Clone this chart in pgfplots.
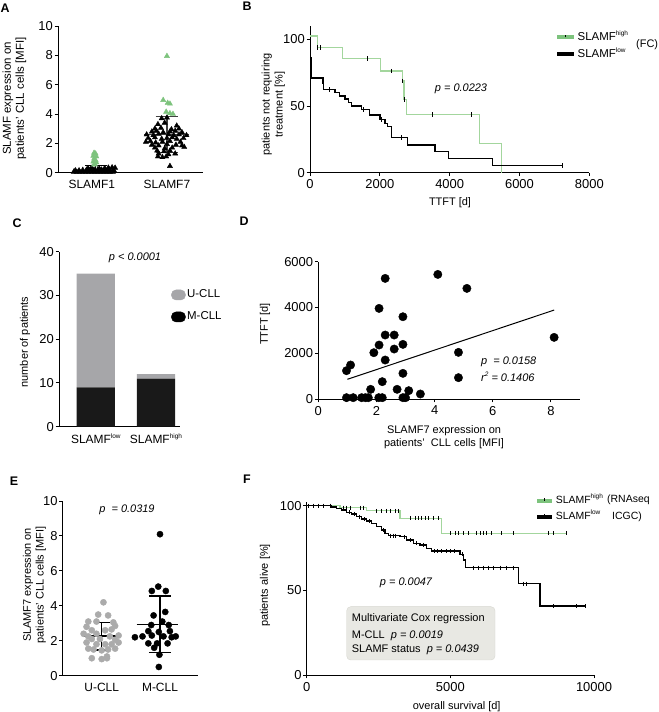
\documentclass[border=0pt]{standalone}
\usepackage{fontspec}
\setmainfont{Liberation Sans}
\usepackage{pgfplots}
\pgfplotsset{compat=1.18}
\definecolor{grn}{HTML}{7DC37D}
\definecolor{grnl}{HTML}{A3D69D}
\definecolor{ug}{HTML}{A6A6A9}
\definecolor{eg}{HTML}{ABABAB}
\definecolor{boxf}{HTML}{E8E8E3}
\definecolor{boxd}{HTML}{D6D6CF}
\newcommand{\sps}[1]{\raisebox{0.85ex}{\fontsize{6.5}{7}\selectfont #1}}
\pgfplotsset{
  gp/.style={scale only axis, anchor=south west, axis lines=left,
    axis line style={-, line width=0.9bp},
    tick align=outside, major tick length=3.5bp,
    tick style={line width=0.9bp, black},
    tick label style={font=\fontsize{13}{15}\selectfont},
    /pgf/number format/assume math mode=true,
    /pgf/number format/1000 sep={}, scaled ticks=false,
    yticklabel style={inner sep=1.5bp}, clip=false},
  leg/.style={legend cell align=left,
    legend style={draw=none, fill=none, inner sep=0pt, anchor=west,
      font=\fontsize{11}{13}\selectfont,
      nodes={inner sep=1.5bp, text height=8bp, text depth=2bp}}}
}
\newcommand{\lab}{\fontsize{11}{13}\selectfont}
\begin{document}
\begin{tikzpicture}[x=1bp,y=1bp]
\path[use as bounding box] (0,0) rectangle (659,712);

% ---------------- A
\begin{axis}[gp, at={(58bp,539.3bp)}, width=145bp, height=146.7bp,
  xmin=-0.45, xmax=1.48, ymin=0, ymax=10, ytick={0,2,...,10},
  xtick={0,1}, xticklabels={SLAMF1,SLAMF7}, xtick style={draw=none},
  xticklabel style={font=\fontsize{12}{14}\selectfont}]
\addplot[only marks, mark=triangle*, mark size=3bp, black, mark options={fill=black}] coordinates {
(-0.24,0.06)(-0.20,0.06)(-0.16,0.06)(-0.12,0.06)(-0.08,0.06)(-0.04,0.06)(0.0,0.06)(0.04,0.06)(0.08,0.06)(0.12,0.06)(0.16,0.06)(0.20,0.06)(0.24,0.06)(0.28,0.06)
(-0.22,0.15)(-0.17,0.15)(-0.12,0.18)(-0.07,0.2)(-0.02,0.22)(0.03,0.2)(0.08,0.22)(0.13,0.2)(0.18,0.2)(0.23,0.22)(0.28,0.2)
(-0.05,0.3)(0.0,0.32)(0.1,0.28)(0.17,0.3)(0.22,0.34)(0.27,0.36)(0.31,0.33)(0.3,0.1)
};
\addplot[only marks, mark=triangle*, mark size=3bp, grn, mark options={fill=grn}] coordinates {
(0.03,1.35)(0.05,1.3)(0.02,1.15)(0.06,1.1)(0.03,0.95)(0.05,0.85)(0.02,0.75)(0.06,0.7)(0.04,0.6)(0.03,0.55)
};
\addplot[black, line width=1.2bp] coordinates {(-0.09,0.48)(0.2,0.48)};
\addplot[black, line width=1.2bp] coordinates {(0.05,0.2)(0.05,0.48)};
\addplot[only marks, mark=triangle*, mark size=3bp, black, mark options={fill=black}] coordinates {
(0.93,3.7)(1.0,3.75)
(0.88,3.3)(0.97,3.4)(1.13,3.2)
(0.84,3.0)(0.92,3.05)(1.06,2.95)(1.16,3.0)
(0.80,2.8)(0.86,2.85)(0.95,2.75)(1.04,2.8)(1.11,2.85)(1.20,2.75)
(0.73,2.6)(0.82,2.55)(0.89,2.65)(1.02,2.6)(1.09,2.55)(1.16,2.6)(1.26,2.55)
(0.75,2.35)(0.84,2.4)(0.93,2.3)(1.0,2.35)(1.07,2.4)(1.13,2.3)(1.22,2.35)
(0.72,2.1)(0.78,2.15)(0.85,2.05)(0.94,2.1)(1.04,2.15)(1.18,2.1)
(0.80,1.9)(0.89,1.85)(1.0,1.95)(1.12,1.9)(1.20,1.85)
(0.84,1.7)(0.97,1.65)(1.07,1.7)(1.23,1.75)
(0.87,1.5)(0.96,1.45)(1.04,1.5)
(0.89,1.3)(1.02,1.25)(1.11,1.3)
(0.88,1.1)(0.94,1.05)(0.99,1.1)
(1.04,0.45)
};
\addplot[only marks, mark=triangle*, mark size=3bp, grn, mark options={fill=grn}] coordinates {
(1.0,7.95)(0.95,4.95)(1.01,4.75)(1.04,4.7)(0.99,4.15)(1.04,4.05)(1.08,4.0)
};
\addplot[black!75, line width=1.2bp] coordinates {(0.7,2.61)(1.3,2.61)};
\addplot[black!75, line width=1.2bp] coordinates {(0.85,3.82)(1.15,3.82)};
\addplot[black!75, line width=1.2bp] coordinates {(0.85,1.36)(1.15,1.36)};
\addplot[black!75, line width=1.2bp] coordinates {(1.0,1.36)(1.0,3.82)};
\end{axis}

% ---------------- B
\begin{axis}[gp, leg, at={(310bp,539.3bp)}, width=279.3bp, height=146.7bp,
  xmin=0, xmax=8000, ymin=0, ymax=110, xtick={0,2000,4000,6000,8000}, ytick={0,50,100},
  legend style={at={(axis description cs:0.877,0.864)}, row sep=4bp, font=\fontsize{11.5}{13}\selectfont},
  legend image code/.code={\draw[#1, line width=4bp] (0bp,0bp) -- (17bp,0bp);
     \draw[black, line width=0.8bp] (8.5bp,0bp) -- (8.5bp,2.5bp);}]
\addplot[const plot, grnl, line width=1.2bp, forget plot] coordinates {
(0,102.5)(210,94)(935,85.75)(2024,76.25)(2640,68.75)(2690,55)(2768,43.75)(4850,22)(5489,0)};
\addplot[only marks, mark=|, mark size=2.2bp, black, line width=0.7bp, forget plot] coordinates {
(210,94)(305,94)(1652,85.75)(2320,76.25)(2640,68.75)(2690,55)(3504,43.75)(4630,43.75)};
\addplot[const plot, black, line width=1.2bp, forget plot] coordinates {
(0,97)(15,86)(30,76)(45,71)(370,67)(385,62.5)(716,60)(840,57.5)(1002,55.25)(1097,52.75)(1193,50)(1479,47.5)(1698,43.25)(2004,40)(2147,37)(2223,34.5)(2338,26.25)(2786,20.75)(3578,15.75)(3960,10.75)(5229,5.25)(7233,5.25)};
\addplot[only marks, mark=|, mark size=2.2bp, black, line width=0.7bp, forget plot] coordinates {
(553,62.5)(1527,47.5)(2052,40)(2606,26.25)(7233,5.25)};
\addlegendimage{grn}\addlegendentry{SLAMF\sps{high}}
\addlegendimage{black}\addlegendentry{SLAMF\sps{low}}
\end{axis}

% ---------------- C
\begin{axis}[gp, leg, at={(59bp,285.3bp)}, width=121bp, height=175bp,
  xmin=-0.613, xmax=1.40, ymin=0, ymax=40, ytick={0,10,...,40},
  ybar stacked, bar width=38.3bp,
  xtick={0,1}, xticklabels={SLAMF\sps{low},SLAMF\sps{high}}, xtick style={draw=none},
  xticklabel style={font=\fontsize{12}{14}\selectfont},
  legend style={at={(axis description cs:0.926,0.69)}, row sep=9bp, font=\fontsize{11.5}{13}\selectfont},
  legend image code/.code={\fill[#1, rounded corners=4.5bp] (0bp,-5bp) rectangle (14bp,5bp);}]
\addplot[fill=black!90, draw=none, forget plot] coordinates {(0,9) (1,11)};
\addplot[fill=ug, draw=none, forget plot] coordinates {(0,26) (1,1)};
\addlegendimage{ug}\addlegendentry{U-CLL}
\addlegendimage{black}\addlegendentry{M-CLL}
\end{axis}

% ---------------- D
\begin{axis}[gp, at={(318.3bp,313bp)}, width=261.7bp, height=137.3bp,
  xmin=0, xmax=9, ymin=0, ymax=6000, xtick={0,2,4,6,8}, ytick={0,2000,4000,6000}]
\addplot[only marks, mark=*, mark size=4.2bp, black] coordinates {
(0.97,1237)(1.11,1485)(0.97,58)(1.2,58)(1.49,58)(1.62,58)(1.72,58)(1.8,422)(1.91,2023)
(2.08,58)(2.2,58)(2.09,3959)(2.09,2358)(2.2,757)(2.3,5270)(2.3,2795)(2.3,1703)
(2.61,2795)(2.61,2183)(2.71,422)(2.91,3595)(2.91,2387)(2.91,1120)(2.91,58)(3.0,58)
(3.11,364)(3.51,218)(4.11,5444)(4.82,2038)(4.82,932)(5.11,4833)(8.11,2693)};
\addplot[black, line width=1bp] coordinates {(1.0,860)(8.11,3886)};
\end{axis}

% ---------------- E
\begin{axis}[gp, at={(62.7bp,36.3bp)}, width=135.3bp, height=174.7bp,
  xmin=-0.669, xmax=1.652, ymin=0, ymax=10, ytick={0,2,...,10},
  xtick={0,1}, xticklabels={U-CLL,M-CLL}, xtick style={draw=none},
  xticklabel style={font=\fontsize{12}{14}\selectfont}]
\addplot[black, line width=1.2bp] coordinates {(-0.31,2.27)(0.31,2.27)};
\addplot[black, line width=1.2bp] coordinates {(-0.14,3.03)(0.14,3.03)};
\addplot[black, line width=1.2bp] coordinates {(-0.14,1.47)(0.14,1.47)};
\addplot[black, line width=1.2bp] coordinates {(0,1.47)(0,3.03)};
\addplot[black, line width=1.2bp] coordinates {(0.6,2.94)(1.31,2.94)};
\addplot[black, line width=1.2bp] coordinates {(0.81,4.56)(1.19,4.56)};
\addplot[black, line width=1.2bp] coordinates {(0.81,1.32)(1.19,1.32)};
\addplot[black, line width=1.2bp] coordinates {(1,1.32)(1,4.56)};
\addplot[only marks, mark=*, mark size=3.1bp, eg, mark options={draw=eg, fill=eg}] coordinates {
(0.03,4.2)(-0.06,3.5)(0.11,3.45)(-0.23,3.1)(-0.09,3.1)(0.2,3.05)(-0.26,2.8)(0.23,2.85)
(-0.17,2.6)(0.06,2.6)(0.17,2.65)(-0.31,2.4)(-0.09,2.4)(-0.23,2.25)(0.14,2.25)(0.29,2.3)
(-0.17,2.1)(-0.03,2.1)(0.23,2.05)(-0.26,1.9)(0.29,1.9)(-0.09,1.8)(0.06,1.8)(0.17,1.8)
(-0.23,1.55)(0.23,1.55)(-0.14,1.5)(0.0,1.45)(0.11,1.5)(0.09,1.1)(-0.17,1.0)(0.0,0.95)(0.09,1.0)};
\addplot[only marks, mark=*, mark size=3.1bp, black] coordinates {
(1.0,8.1)(0.97,5.1)(0.86,4.85)(1.1,4.85)(1.09,3.65)(0.89,3.45)(1.04,3.1)(0.85,2.9)(1.15,2.9)
(0.8,2.55)(0.98,2.5)(1.17,2.55)(0.57,2.2)(0.7,2.25)(0.86,2.3)(1.06,2.25)(1.27,2.25)(1.2,2.2)
(0.8,1.85)(0.95,1.85)(1.13,1.85)(0.9,1.6)(0.99,1.2)(0.98,0.5)};
\end{axis}

% ---------------- F
\begin{axis}[gp, leg, at={(306.7bp,37bp)}, width=287.3bp, height=172.7bp,
  xmin=0, xmax=10000, ymin=0, ymax=102, xtick={0,5000,10000}, ytick={0,50,100},
  legend style={at={(axis description cs:0.795,0.964)}, row sep=3bp, font=\fontsize{10.5}{12}\selectfont},
  legend image code/.code={\draw[#1, line width=4bp] (0bp,0bp) -- (15bp,0bp);
     \draw[black, line width=0.8bp] (7.5bp,0bp) -- (7.5bp,2.5bp);}]
\addplot[const plot, grnl, line width=1.2bp, forget plot] coordinates {
(0,100)(1160,98.8)(2088,97)(3248,92.5)(4698,83.7)(9049,83.7)};
\addplot[only marks, mark=|, mark size=2bp, black, line width=0.7bp, forget plot] coordinates {
(60,100)(230,100)(400,100)(580,100)(820,100)(1270,98.8)(1390,98.8)(1510,98.8)(1860,98.8)(1970,98.8)
(2436,97)(2610,97)(2784,97)(2900,97)(3074,97)(3190,97)
(3600,92.5)(3770,92.5)(3886,92.5)(4002,92.5)(4118,92.5)(4234,92.5)(4408,92.5)(4582,92.5)
(4988,83.7)(5162,83.7)(5278,83.7)(5452,83.7)(5626,83.7)(5916,83.7)(6032,83.7)(6148,83.7)(6264,83.7)(6438,83.7)(6786,83.7)(7193,83.7)(8411,83.7)(8585,83.7)(9049,83.7)};
\addplot[const plot, black, line width=1.4bp, forget plot] coordinates {
(0,100)(870,99.2)(1044,98.4)(1218,97.4)(1392,96.1)(1566,95.1)(1740,93.5)(1914,92.1)(2088,90.9)(2262,89.6)(2436,87.6)(2610,85.6)(2726,83.7)(2842,82.3)(3248,81.7)(3480,79.7)(3712,77.8)(3944,76.8)(4176,74.8)(4350,73.2)(5336,71.3)(5452,67.9)(5534,63.4)(7367,53.9)(8121,40.7)(9687,40.7)};
\addplot[only marks, mark=|, mark size=2bp, black, line width=0.7bp, forget plot] coordinates {
(1480,96.1)(1650,95.1)(1820,93.5)(2000,92.1)(2180,90.9)(2680,85.6)(2900,82.3)(3000,82.3)(3100,82.3)(3400,81.7)(3600,79.7)(3800,77.8)(4050,76.8)
(4450,73.2)(4550,73.2)(4700,73.2)(4850,73.2)(5000,73.2)(5150,73.2)(5420,71.3)
(5800,63.4)(5974,63.4)(6148,63.4)(6322,63.4)(6497,63.4)(6729,63.4)(6961,63.4)(7193,63.4)
(7541,53.9)(7657,53.9)(8585,40.7)(9397,40.7)(9687,40.7)};
\addlegendimage{grn}\addlegendentry{SLAMF\sps{high}}
\addlegendimage{black}\addlegendentry{SLAMF\sps{low}}
\end{axis}

% ---------------- texts
\begin{scope}[every node/.style={font=\lab}]
\node[font=\fontsize{12.5}{14}\selectfont\bfseries] at (5,703.5) {A};
\node[font=\fontsize{12.5}{14}\selectfont\bfseries] at (247,706) {B};
\node[font=\fontsize{12.5}{14}\selectfont\bfseries] at (17,489) {C};
\node[font=\fontsize{12.5}{14}\selectfont\bfseries] at (244,491) {D};
\node[font=\fontsize{12.5}{14}\selectfont\bfseries] at (14,231) {E};
\node[font=\fontsize{12.5}{14}\selectfont\bfseries] at (247,233) {F};
% y labels
\node[rotate=90, align=center, font=\fontsize{11.5}{13}\selectfont] at (14.5,613.5) {SLAMF expression on\\patients’ CLL cells [MFI]};
\node[rotate=90, align=center] at (273.3,607.5) {patients not requiring\\treatment [\%]};
\node[rotate=90] at (25,370) {number of patients};
\node[rotate=90] at (265,388) {TTFT [d]};
\node[rotate=90, align=center] at (34.4,127) {SLAMF7 expression on\\patients’ CLL cells [MFI]};
\node[rotate=90] at (265,126.5) {patients alive [\%]};
% x labels
\node at (450,509) {TTFT [d]};
\node[align=center] at (444,274.5) {SLAMF7 expression on\\patients’\ \ CLL cells [MFI]};
\node at (456.7,5.3) {overall survival [d]};
% annotations
\node[font=\lab\itshape] at (461,623) {p = 0.0223};
\node[font=\lab\itshape] at (135,454) {p < 0.0001};
\node[font=\lab\itshape, anchor=west, inner sep=0pt] at (481,350.3) {p\ \ = 0.0158};
\node[font=\lab\itshape, anchor=west, inner sep=0pt] at (481,335) {r\sps{2}\ = 0.1406};
\node[font=\lab\itshape] at (127,202) {p\ \ = 0.0319};
\node[font=\lab\itshape] at (406,129) {p = 0.0047};
\node[anchor=west, inner sep=0pt] at (636,667) {(FC)};
\node[anchor=west, inner sep=0pt, font=\fontsize{10.5}{12}\selectfont] at (607,212) {(RNAseq};
\node[anchor=west, inner sep=0pt, font=\fontsize{10.5}{12}\selectfont] at (612,195) {ICGC)};
\draw[boxd, fill=boxf, rounded corners=4bp] (346.7,52) rectangle (495,105.3);
\node[anchor=west, inner sep=0pt] at (351.7,93) {Multivariate Cox regression};
\node[anchor=west, inner sep=0pt] at (351.7,76) {M-CLL\ \ \textit{p = 0.0019}};
\node[anchor=west, inner sep=0pt] at (351.7,62) {SLAMF status\ \ \textit{p = 0.0439}};
\end{scope}
\end{tikzpicture}
\end{document}
